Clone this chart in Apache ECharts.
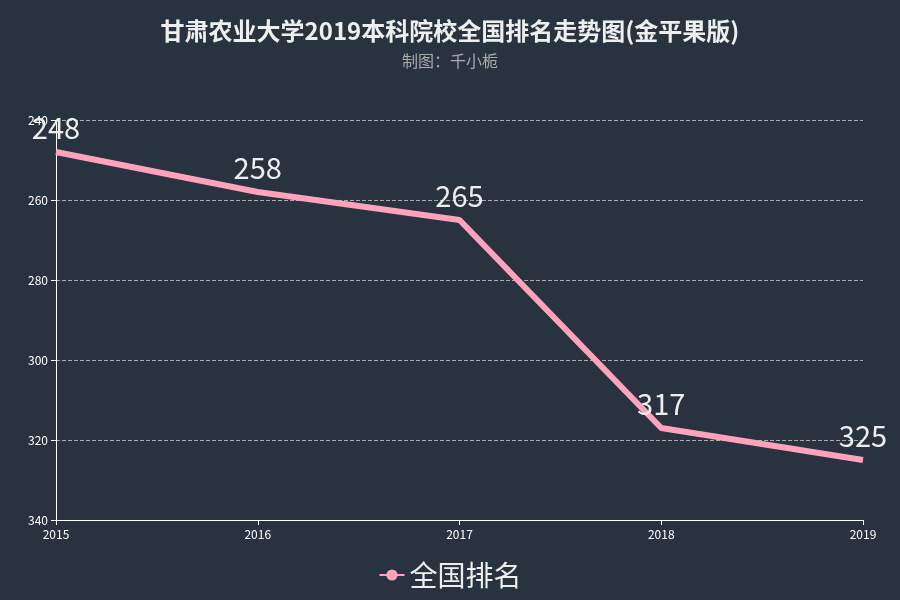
<!DOCTYPE html>
<html>
<head>
<meta charset="utf-8">
<script src="https://cdn.jsdelivr.net/npm/echarts@6/dist/echarts.min.js"></script>
<style>
  html, body { margin: 0; padding: 0; background: #29333f; }
  #chart { width: 900px; height: 600px; }
</style>
</head>
<body>
<div id="chart"></div>
<script>
var years = ['2015', '2016', '2017', '2018', '2019'];
var ranks = [248, 258, 265, 317, 325];
var seriesName = '全国排名';

var myChart = echarts.init(document.getElementById('chart'));
var option = {
  backgroundColor: '#29333f',
  textStyle: { fontFamily: 'Noto Sans CJK SC' },
  title: {
    text: '甘肃农业大学2019本科院校全国排名走势图(金平果版)',
    subtext: '制图：千小栀',
    left: 'center',
    top: 14,
    itemGap: 10,
    textStyle: { color: '#eeeeee', fontSize: 24, fontWeight: 'bold' },
    subtextStyle: { color: '#aaaaaa', fontSize: 16 }
  },
  legend: {
    bottom: 6,
    left: 'center',
    data: [seriesName],
    itemWidth: 25,
    itemHeight: 14,
    textStyle: { color: '#eeeeee', fontSize: 28 }
  },
  grid: { left: 56, right: 37, top: 120, bottom: 80 },
  xAxis: {
    type: 'category',
    boundaryGap: false,
    data: years,
    axisLine: { lineStyle: { color: '#ffffff' } },
    axisTick: { show: true, lineStyle: { color: '#ffffff' } },
    axisLabel: { color: '#ffffff', fontSize: 12 }
  },
  yAxis: {
    type: 'value',
    inverse: true,
    min: 240,
    max: 340,
    interval: 20,
    axisLine: { show: true, lineStyle: { color: '#ffffff' } },
    axisTick: { show: true, lineStyle: { color: '#ffffff' } },
    axisLabel: { color: '#ffffff', fontSize: 12 },
    splitLine: { lineStyle: { color: '#aaaaaa', type: 'dashed' } }
  },
  series: [{
    name: seriesName,
    type: 'line',
    data: ranks,
    symbol: 'circle',
    symbolSize: 0.1,
    itemStyle: { color: '#ffa3bd' },
    lineStyle: { width: 6, color: '#ffa3bd' },
    label: { show: true, position: 'top', distance: 9, color: '#eeeeee', fontSize: 29 }
  }]
};
myChart.setOption(option);
</script>
</body>
</html>
